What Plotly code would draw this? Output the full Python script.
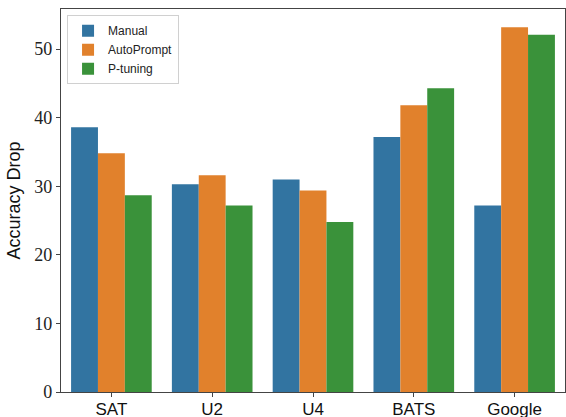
import plotly.graph_objects as go

categories = ["SAT", "U2", "U4", "BATS", "Google"]
manual = [38.6, 30.3, 31.0, 37.2, 27.2]
autoprompt = [34.8, 31.6, 29.4, 41.8, 53.2]
ptuning = [28.7, 27.2, 24.8, 44.3, 52.1]
series_names = ["Manual", "AutoPrompt", "P-tuning"]
colors = ["#3274a1", "#e1812c", "#3a923a"]
y_ticks = [0, 10, 20, 30, 40, 50]

fig = go.Figure()
for name, vals, c in zip(series_names, [manual, autoprompt, ptuning], colors):
    fig.add_trace(go.Bar(x=categories, y=vals, name=name,
                         marker=dict(color=c, line=dict(width=0))))

fig.update_layout(
    width=566, height=417,
    margin=dict(l=61, r=1, t=9, b=25, pad=0),
    barmode="group", bargap=0.2, bargroupgap=0,
    plot_bgcolor="white", paper_bgcolor="white",
    showlegend=True,
    legend=dict(x=0.012, y=0.984, xanchor="left", yanchor="top",
                bgcolor="rgba(255,255,255,0.8)", bordercolor="#d0d0d0", borderwidth=1,
                font=dict(family="Liberation Sans", size=12, color="#222"),
                tracegroupgap=0, itemwidth=30),
    xaxis=dict(range=[-0.5, 4.5], showline=True, mirror=True, linecolor="#444", linewidth=1.2,
               ticks="outside", ticklen=4, tickcolor="#444", automargin=False,
               ticklabelstandoff=-3,
               tickfont=dict(family="Liberation Sans", size=17, color="#111"),
               showgrid=False, zeroline=False),
    yaxis=dict(range=[0, 55.85], tickvals=y_ticks, showline=True, mirror=True,
               linecolor="#444", linewidth=1.2, automargin=False,
               ticks="outside", ticklen=4, tickcolor="#444",
               tickfont=dict(family="Liberation Serif", size=18, color="#222"),
               title=dict(text="Accuracy Drop", standoff=8,
                          font=dict(family="Liberation Sans", size=18, color="#111")),
               showgrid=False, zeroline=False),
)

fig.write_html("out.html", config={"displayModeBar": False},
               post_script="document.body.style.margin='0';document.body.style.overflow='hidden';")
